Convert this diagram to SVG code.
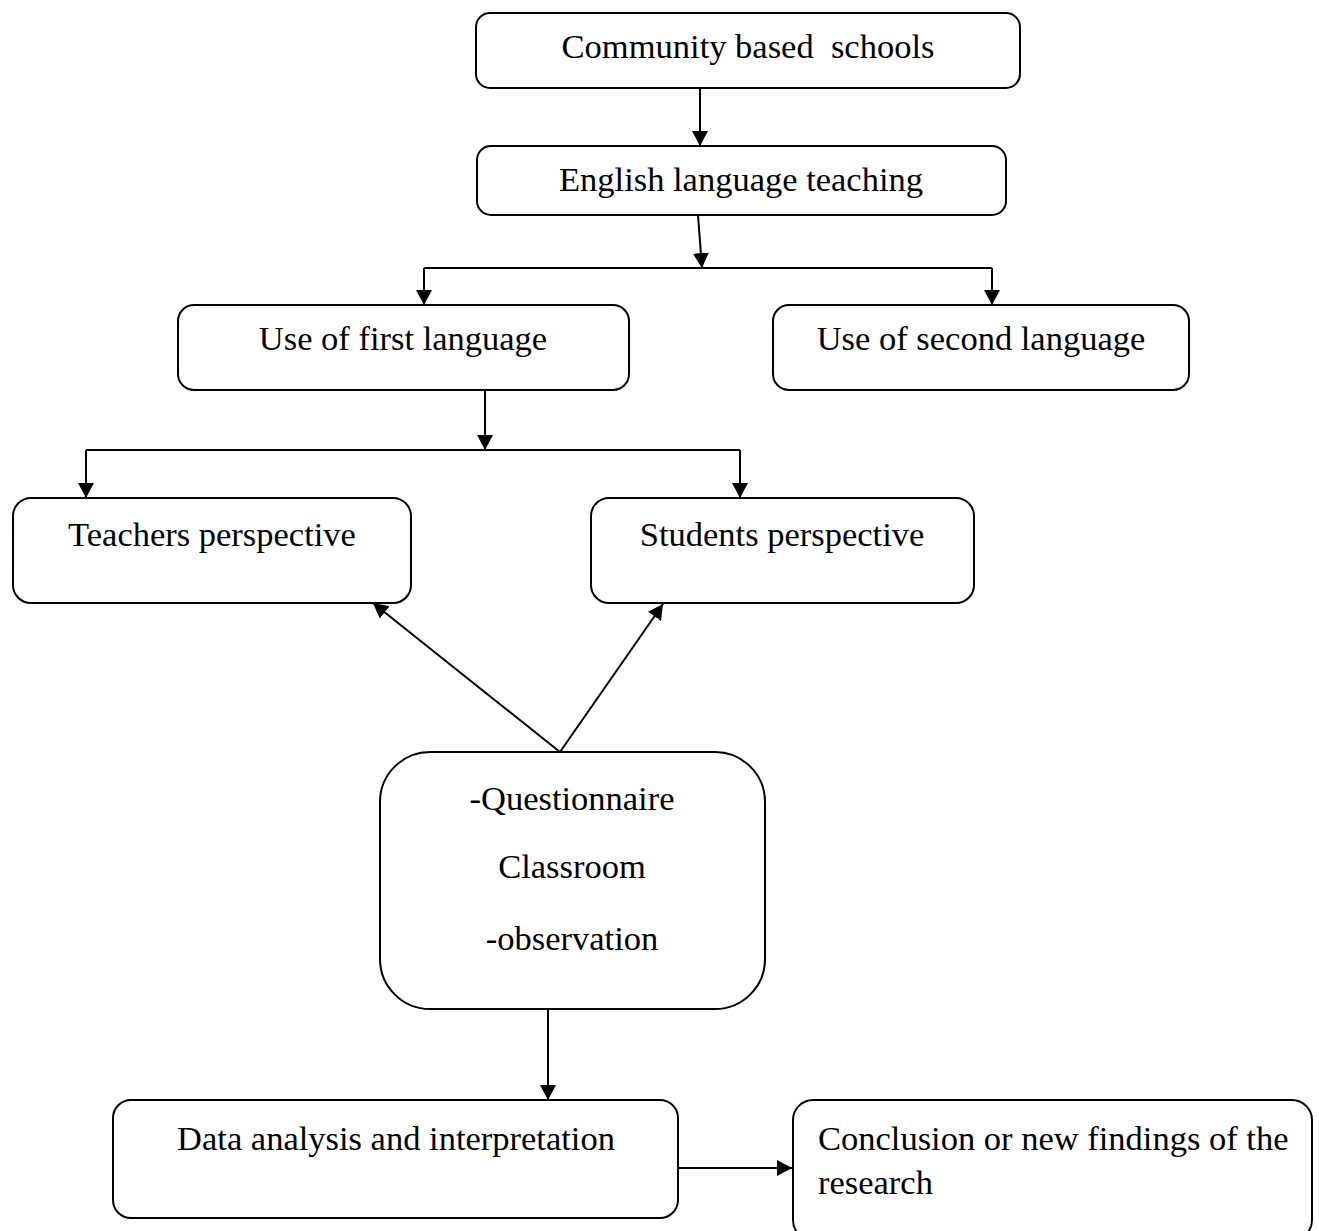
<svg xmlns="http://www.w3.org/2000/svg" width="1319" height="1231" viewBox="0 0 1319 1231">
<defs>
<marker id="ah" markerWidth="16" markerHeight="16" refX="15" refY="8" orient="auto" markerUnits="userSpaceOnUse">
<path d="M0,0 L15,8 L0,16 Z" fill="#000"/>
</marker>
<style>
.box{fill:#fff;stroke:#000;stroke-width:2}
.t{font-family:"Liberation Serif","Times New Roman",serif;font-size:34.5px;fill:#000}
.c{text-anchor:middle}
.ln{fill:none;stroke:#000;stroke-width:2}
.ar{fill:none;stroke:#000;stroke-width:2;marker-end:url(#ah)}
</style>
</defs>
<rect width="1319" height="1231" fill="#fff"/>
<g id="connectors">
<line class="ar" x1="700" y1="88" x2="700" y2="146"/>
<line class="ar" x1="698" y1="215" x2="702" y2="268"/>
<polyline class="ln" points="424,268 992,268"/>
<line class="ar" x1="424" y1="268" x2="424" y2="305"/>
<line class="ar" x1="992" y1="268" x2="992" y2="305"/>
<line class="ar" x1="485" y1="390" x2="485" y2="450"/>
<polyline class="ln" points="86,450 740,450"/>
<line class="ar" x1="86" y1="450" x2="86" y2="498"/>
<line class="ar" x1="740" y1="450" x2="740" y2="498"/>
<line class="ar" x1="560" y1="752" x2="373" y2="603"/>
<line class="ar" x1="560" y1="752" x2="663" y2="604"/>
<line class="ar" x1="548" y1="1009" x2="548" y2="1100"/>
<line class="ar" x1="678" y1="1168" x2="792" y2="1168"/>
</g>
<g id="n1"><rect class="box" x="476" y="13" width="544" height="75" rx="14"/><text class="t c" x="748" y="58" xml:space="preserve">Community based  schools</text></g>
<g id="n2"><rect class="box" x="477" y="146" width="529" height="69" rx="14"/><text class="t c" x="741" y="191">English language teaching</text></g>
<g id="n3"><rect class="box" x="178" y="305" width="451" height="85" rx="16"/><text class="t c" x="403" y="350">Use of first language</text></g>
<g id="n4"><rect class="box" x="773" y="305" width="416" height="85" rx="16"/><text class="t c" x="981" y="350">Use of second language</text></g>
<g id="n5"><rect class="box" x="13" y="498" width="398" height="105" rx="18"/><text class="t c" x="212" y="546">Teachers perspective</text></g>
<g id="n6"><rect class="box" x="591" y="498" width="383" height="105" rx="18"/><text class="t c" x="782" y="546">Students perspective</text></g>
<g id="n7"><rect class="box" x="380" y="752" width="385" height="257" rx="50"/><text class="t c" x="572" y="810">-Questionnaire</text><text class="t c" x="572" y="878">Classroom</text><text class="t c" x="572" y="950">-observation</text></g>
<g id="n8"><rect class="box" x="113" y="1100" width="565" height="118" rx="18"/><text class="t c" x="396" y="1150">Data analysis and interpretation</text></g>
<g id="n9"><rect class="box" x="793" y="1100" width="519" height="140" rx="20"/><text class="t" x="818" y="1150">Conclusion or new findings of the</text><text class="t" x="818" y="1194">research</text></g>
</svg>
